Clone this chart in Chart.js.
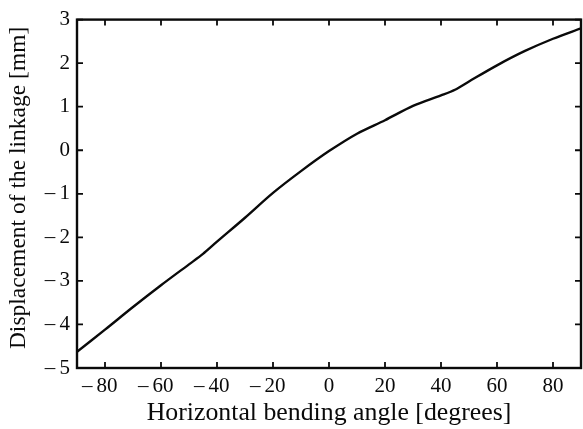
<!DOCTYPE html>
<html>
<head>
<meta charset="utf-8">
<script src="https://cdn.jsdelivr.net/npm/chart.js@4/dist/chart.umd.min.js"></script>
<style>
  html, body { margin: 0; padding: 0; background: #fff; }
  #wrap { width: 583px; height: 429px; }
</style>
</head>
<body>
<div id="wrap"><canvas id="c" width="583" height="429"></canvas></div>
<script>
// bending angle [deg] vs displacement [mm]
const angles = [-90, -80, -70, -60, -50, -45, -40, -30, -20, -10, 0, 10, 20, 30, 40, 45, 50, 60, 70, 80, 90];
const displacement = [-4.63, -4.12, -3.6, -3.1, -2.62, -2.38, -2.1, -1.55, -0.98, -0.48, -0.02, 0.38, 0.69, 1.02, 1.26, 1.39, 1.58, 1.95, 2.28, 2.56, 2.8];
const xTicks = [-80, -60, -40, -20, 0, 20, 40, 60, 80];
const yTicks = [-5, -4, -3, -2, -1, 0, 1, 2, 3];

const font = 'Liberation Serif, Times New Roman, serif';
const ink = '#0a0a0a';

// long minus hangs off to the left, digits stay centred on the tick
function fmtX(v) {
  return v < 0 ? '\u2013\u2009' + Math.abs(v) + '\u2007' : String(v);
}
function fmtY(v) {
  return v < 0 ? '\u2013\u2009' + Math.abs(v) : String(v);
}

// box + inward ticks on all four sides
const boxPlugin = {
  id: 'box',
  afterDraw(chart) {
    const { ctx, chartArea: a, scales } = chart;
    const len = 6;
    ctx.save();
    ctx.strokeStyle = ink;
    ctx.lineWidth = 1.8;
    ctx.beginPath();
    xTicks.forEach(v => {
      const px = scales.x.getPixelForValue(v);
      ctx.moveTo(px, a.bottom); ctx.lineTo(px, a.bottom - len);
      ctx.moveTo(px, a.top); ctx.lineTo(px, a.top + len);
    });
    yTicks.forEach(v => {
      const py = scales.y.getPixelForValue(v);
      ctx.moveTo(a.left, py); ctx.lineTo(a.left + len, py);
      ctx.moveTo(a.right, py); ctx.lineTo(a.right - len, py);
    });
    ctx.stroke();
    ctx.lineWidth = 2.4;
    ctx.strokeRect(a.left, a.top, a.right - a.left, a.bottom - a.top);
    ctx.restore();
  }
};

new Chart(document.getElementById('c'), {
  type: 'line',
  data: {
    datasets: [{
      data: angles.map((a, i) => ({ x: a, y: displacement[i] })),
      borderColor: ink,
      borderWidth: 2.4,
      pointRadius: 0,
      tension: 0.3,
      fill: false,
    }],
  },
  options: {
    responsive: false,
    animation: false,
    layout: { padding: { top: 18, right: 2, left: 0, bottom: 0 } },
    plugins: { legend: { display: false }, tooltip: { enabled: false } },
    scales: {
      x: {
        type: 'linear',
        min: -90, max: 90,
        grid: { display: false, drawTicks: false },
        border: { display: false },
        afterBuildTicks: s => { s.ticks = xTicks.map(v => ({ value: v })); },
        afterFit: s => { s.height = 61; },
        ticks: {
          color: ink, padding: 6, maxRotation: 0, autoSkip: false,
          font: { family: font, size: 21 },
          callback: v => fmtX(v),
        },
        title: {
          display: true, text: 'Horizontal bending angle [degrees]',
          color: ink, padding: { top: 0, bottom: 0 },
          font: { family: font, size: 25.8 },
        },
      },
      y: {
        min: -5, max: 3,
        grid: { display: false, drawTicks: false },
        border: { display: false },
        afterBuildTicks: s => { s.ticks = yTicks.map(v => ({ value: v })); },
        afterFit: s => { s.width = 77; },
        ticks: {
          color: ink, padding: 7, autoSkip: false,
          font: { family: font, size: 21 },
          callback: v => fmtY(v),
        },
        title: {
          display: true, text: '\u2002Displacement of the linkage [mm]',
          color: ink, padding: { top: 5, bottom: 0 },
          font: { family: font, size: 23.5 },
        },
      },
    },
  },
  plugins: [boxPlugin],
});
</script>
</body>
</html>
